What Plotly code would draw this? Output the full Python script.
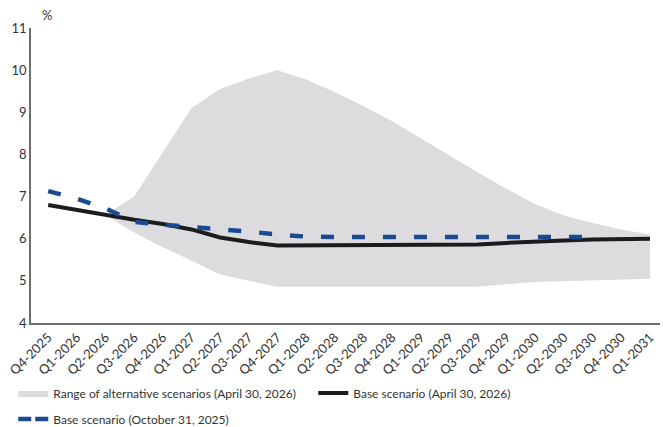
import plotly.graph_objects as go

quarters = [
    "Q4-2025", "Q1-2026", "Q2-2026", "Q3-2026", "Q4-2026", "Q1-2027",
    "Q2-2027", "Q3-2027", "Q4-2027", "Q1-2028", "Q2-2028", "Q3-2028",
    "Q4-2028", "Q1-2029", "Q2-2029", "Q3-2029", "Q4-2029", "Q1-2030",
    "Q2-2030", "Q3-2030", "Q4-2030", "Q1-2031",
]

# Base scenario (April 30, 2026)
base_apr2026 = [6.80, 6.68, 6.56, 6.45, 6.35, 6.22, 6.03, 5.92, 5.84, 5.84,
                5.845, 5.85, 5.855, 5.86, 5.86, 5.86, 5.90, 5.94, 5.96,
                5.98, 5.99, 6.00]

# Base scenario (October 31, 2025) - ends in Q3-2030
base_oct2025 = [7.13, 6.95, 6.72, 6.40, 6.33, 6.28, 6.24, 6.17, 6.10, 6.05,
                6.04, 6.04, 6.04, 6.04, 6.04, 6.04, 6.04, 6.04, 6.04, 6.04]

# Range of alternative scenarios, starting in Q2-2026
range_quarters = quarters[2:]
range_upper = [6.56, 7.00, 8.05, 9.10, 9.55, 9.80, 10.00, 9.78, 9.48, 9.15,
               8.79, 8.38, 7.96, 7.57, 7.18, 6.82, 6.55, 6.37, 6.22, 6.10]
range_lower = [6.56, 6.15, 5.80, 5.48, 5.15, 5.00, 4.86, 4.86, 4.86, 4.86,
               4.86, 4.86, 4.86, 4.86, 4.92, 4.97, 5.00, 5.02, 5.03, 5.05]

y_ticks = [4, 5, 6, 7, 8, 9, 10, 11]

FONT = "Lato"
TEXT = "#333333"
BLUE = "#1a4a91"

fig = go.Figure()

fig.add_trace(go.Scatter(
    x=range_quarters + range_quarters[::-1],
    y=range_upper + range_lower[::-1],
    fill="toself", fillcolor="#dcdcde",
    line=dict(width=0, color="#dcdcde"),
    mode="lines", hoverinfo="skip",
    name="Range of alternative scenarios (April 30, 2026)",
    legend="legend",
))

fig.add_trace(go.Scatter(
    x=quarters, y=base_apr2026, mode="lines",
    line=dict(color="#1c1c1c", width=4),
    name="Base scenario (April 30, 2026)",
    legend="legend",
))

fig.add_trace(go.Scatter(
    x=quarters[:len(base_oct2025)], y=base_oct2025, mode="lines",
    line=dict(color=BLUE, width=4.5, dash="13px,18px"),
    name="Base scenario (October 31, 2025)",
    showlegend=False,
))

# legend key for the October scenario, with a tighter dash so two dashes show
fig.add_trace(go.Scatter(
    x=[None], y=[None], mode="lines",
    line=dict(color=BLUE, width=4.5, dash="13px,4px"),
    name="Base scenario (October 31, 2025)",
    legend="legend2",
))

fig.update_layout(
    width=663, height=427,
    margin=dict(l=31, r=3, t=28, b=104),
    plot_bgcolor="white", paper_bgcolor="white",
    font=dict(family=FONT, color=TEXT, size=13),
    xaxis=dict(
        type="category", categoryorder="array", categoryarray=quarters,
        range=[-0.6, 21.35], tickangle=-45, showgrid=False,
        showline=True, linecolor="#6e6e6e", linewidth=1.5,
        ticks="", tickfont=dict(size=13, color=TEXT), fixedrange=True,
        automargin=False,
    ),
    yaxis=dict(
        range=[4, 11], tickvals=y_ticks, showgrid=False, zeroline=False,
        showline=True, linecolor="#6e6e6e", linewidth=1.5,
        ticks="", tickfont=dict(size=13, color=TEXT), fixedrange=True,
        automargin=False,
    ),
    legend=dict(
        orientation="h", xref="container", yref="container",
        x=0.02, y=0.0796, xanchor="left", yanchor="middle",
        entrywidth=255, entrywidthmode="pixels",
        font=dict(size=12, color=TEXT), itemwidth=30,
        bgcolor="rgba(0,0,0,0)", traceorder="normal",
    ),
    legend2=dict(
        orientation="h", xref="container", yref="container",
        x=0.02, y=0.0187, xanchor="left", yanchor="middle",
        font=dict(size=12, color=TEXT), itemwidth=30,
        bgcolor="rgba(0,0,0,0)",
    ),
    annotations=[dict(
        text="%", xref="paper", yref="paper", x=0.0, y=1.0,
        xshift=16, yshift=13, showarrow=False,
        font=dict(size=13, color=TEXT), xanchor="center", yanchor="middle",
    )],
    showlegend=True,
)

fig.write_html("out.html")
